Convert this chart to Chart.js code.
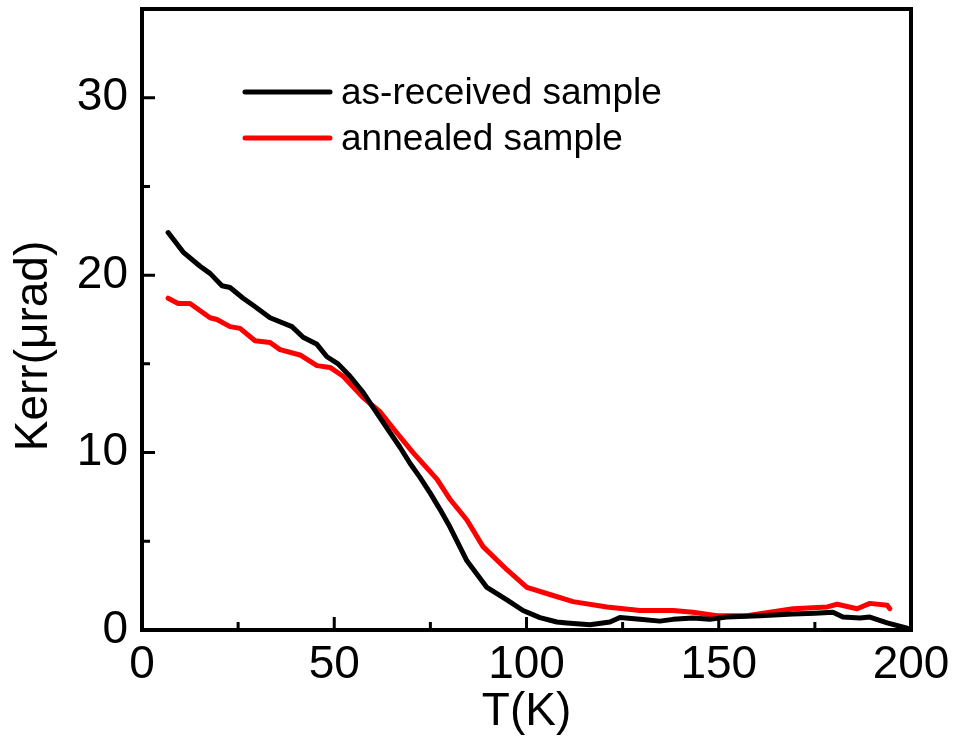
<!DOCTYPE html>
<html>
<head>
<meta charset="utf-8">
<script src="https://cdn.jsdelivr.net/npm/chart.js@4/dist/chart.umd.min.js"></script>
<style>
  html, body { margin: 0; padding: 0; background: #ffffff; }
  #wrap { width: 955px; height: 742px; position: relative; }
</style>
</head>
<body>
<div id="wrap"><canvas id="c" width="955" height="742"></canvas></div>
<script>
// ---- Data ----
const seriesNames = ['as-received sample', 'annealed sample'];

const asReceivedT = [6.8, 10.7, 15.1, 17.7, 20.8, 22.9, 26.3, 28.9, 33.3, 39.0, 41.9, 45.5, 48.1, 51.0, 54.1, 57.5, 59.3, 62.7, 67.1, 69.7, 72.3, 75.0, 77.5, 80.1, 84.5, 89.7, 94.9, 99.1, 103.5, 107.9, 110.5, 116.5, 121.7, 124.3, 129.5, 134.7, 138.1, 143.3, 147.7, 152.0, 160.7, 169.3, 175.0, 179.7, 182.3, 186.7, 189.3, 193.8, 199.0];
const asReceivedKerr = [22.4, 21.3, 20.5, 20.1, 19.4, 19.3, 18.7, 18.3, 17.6, 17.1, 16.5, 16.1, 15.4, 15.0, 14.3, 13.4, 12.8, 11.7, 10.3, 9.4, 8.6, 7.7, 6.8, 5.8, 3.9, 2.4, 1.7, 1.1, 0.7, 0.45, 0.4, 0.3, 0.45, 0.7, 0.6, 0.5, 0.6, 0.68, 0.6, 0.73, 0.8, 0.9, 0.95, 1.0, 0.73, 0.68, 0.73, 0.4, 0.1];

const annealedT = [6.8, 9.4, 12.5, 17.7, 19.5, 22.9, 25.5, 29.4, 33.3, 35.9, 41.1, 45.5, 48.9, 52.3, 57.5, 61.9, 66.3, 70.5, 76.7, 80.0, 84.5, 88.7, 94.9, 100.1, 106.1, 112.1, 120.9, 129.5, 138.1, 143.3, 149.5, 157.3, 163.3, 169.3, 178.2, 180.8, 186.0, 189.3, 193.8, 194.5];
const annealedKerr = [18.7, 18.4, 18.4, 17.6, 17.5, 17.1, 17.0, 16.3, 16.2, 15.8, 15.5, 14.9, 14.8, 14.3, 13.1, 12.3, 11.1, 10.0, 8.5, 7.4, 6.2, 4.7, 3.4, 2.4, 2.0, 1.6, 1.3, 1.1, 1.1, 1.0, 0.8, 0.8, 1.0, 1.2, 1.3, 1.45, 1.2, 1.5, 1.4, 1.2];

const xMajorTicks = [0, 50, 100, 150, 200];
const xMinorTicks = [25, 75, 125, 175];
const yMajorTicks = [0, 10, 20, 30];
const yMinorTicks = [5, 15, 25];
const xTitle = 'T(K)';
const yTitle = 'Kerr(\u03bcrad)';

// ---- Chart ----
const FONT = "'Liberation Sans', Arial, sans-serif";
const toPoints = (xs, ys) => xs.map((x, i) => ({ x: x, y: ys[i] }));

const framePlugin = {
  id: 'frame',
  afterDraw(chart) {
    const ctx = chart.ctx;
    const a = chart.chartArea;
    const xs = chart.scales.x, ys = chart.scales.y;
    ctx.save();
    ctx.strokeStyle = '#000';
    // ticks (inward)
    ctx.lineWidth = 3;
    ctx.beginPath();
    xMajorTicks.forEach(v => { const p = xs.getPixelForValue(v); ctx.moveTo(p, a.bottom); ctx.lineTo(p, a.bottom - 13); });
    xMinorTicks.forEach(v => { const p = xs.getPixelForValue(v); ctx.moveTo(p, a.bottom); ctx.lineTo(p, a.bottom - 8); });
    yMajorTicks.forEach(v => { const p = ys.getPixelForValue(v); ctx.moveTo(a.left, p); ctx.lineTo(a.left + 13, p); });
    yMinorTicks.forEach(v => { const p = ys.getPixelForValue(v); ctx.moveTo(a.left, p); ctx.lineTo(a.left + 8, p); });
    ctx.stroke();
    // frame
    ctx.lineWidth = 4;
    ctx.lineJoin = 'miter';
    ctx.strokeRect(a.left, a.top, a.right - a.left, a.bottom - a.top);
    // legend inside the plot
    const items = chart.data.datasets;
    ctx.lineCap = 'round';
    ctx.font = '37px ' + FONT;
    ctx.textBaseline = 'middle';
    ctx.textAlign = 'left';
    items.forEach((ds, i) => {
      const yy = 92 + i * 46;
      ctx.strokeStyle = ds.borderColor;
      ctx.lineWidth = 5;
      ctx.beginPath();
      ctx.moveTo(245, yy);
      ctx.lineTo(330, yy);
      ctx.stroke();
      ctx.fillStyle = '#000';
      ctx.fillText(ds.label, 341, yy + 2);
    });
    // y axis title
    ctx.font = '46px ' + FONT;
    ctx.fillStyle = '#000';
    ctx.translate(47, 346);
    ctx.rotate(-Math.PI / 2);
    ctx.textAlign = 'center';
    ctx.textBaseline = 'alphabetic';
    ctx.fillText(yTitle, 0, 0);
    ctx.restore();
  }
};

new Chart(document.getElementById('c'), {
  type: 'line',
  data: {
    datasets: [
      {
        label: seriesNames[0],
        data: toPoints(asReceivedT, asReceivedKerr),
        borderColor: '#000000',
        backgroundColor: '#000000',
        borderWidth: 5,
        pointRadius: 0,
        tension: 0,
        borderCapStyle: 'round',
        borderJoinStyle: 'round'
      },
      {
        label: seriesNames[1],
        data: toPoints(annealedT, annealedKerr),
        borderColor: '#ff0000',
        backgroundColor: '#ff0000',
        borderWidth: 5,
        pointRadius: 0,
        tension: 0,
        borderCapStyle: 'round',
        borderJoinStyle: 'round'
      }
    ]
  },
  options: {
    responsive: false,
    animation: false,
    devicePixelRatio: 1,
    layout: { padding: { left: 0, right: 44, top: 9, bottom: 0 } },
    plugins: {
      legend: { display: false },
      tooltip: { enabled: false }
    },
    scales: {
      x: {
        type: 'linear',
        min: 0,
        max: 200,
        grid: { display: false, drawTicks: false },
        border: { display: false },
        afterBuildTicks: s => { s.ticks = xMajorTicks.map(v => ({ value: v })); },
        afterFit: s => { s.height = 112; s.paddingLeft = 0; s.paddingRight = 0; },
        ticks: {
          color: '#000',
          padding: 8,
          maxRotation: 0,
          font: { family: FONT, size: 46 }
        },
        title: {
          display: true,
          text: xTitle,
          color: '#000',
          padding: { top: 0, bottom: 2 },
          font: { family: FONT, size: 46 }
        }
      },
      y: {
        type: 'linear',
        min: 0,
        max: 35,
        grid: { display: false, drawTicks: false },
        border: { display: false },
        afterBuildTicks: s => { s.ticks = yMajorTicks.map(v => ({ value: v })); },
        afterFit: s => { s.width = 142; s.paddingTop = 0; s.paddingBottom = 0; },
        ticks: {
          color: '#000',
          padding: 14,
          font: { family: FONT, size: 46 }
        }
      }
    }
  },
  plugins: [framePlugin]
});
</script>
</body>
</html>
